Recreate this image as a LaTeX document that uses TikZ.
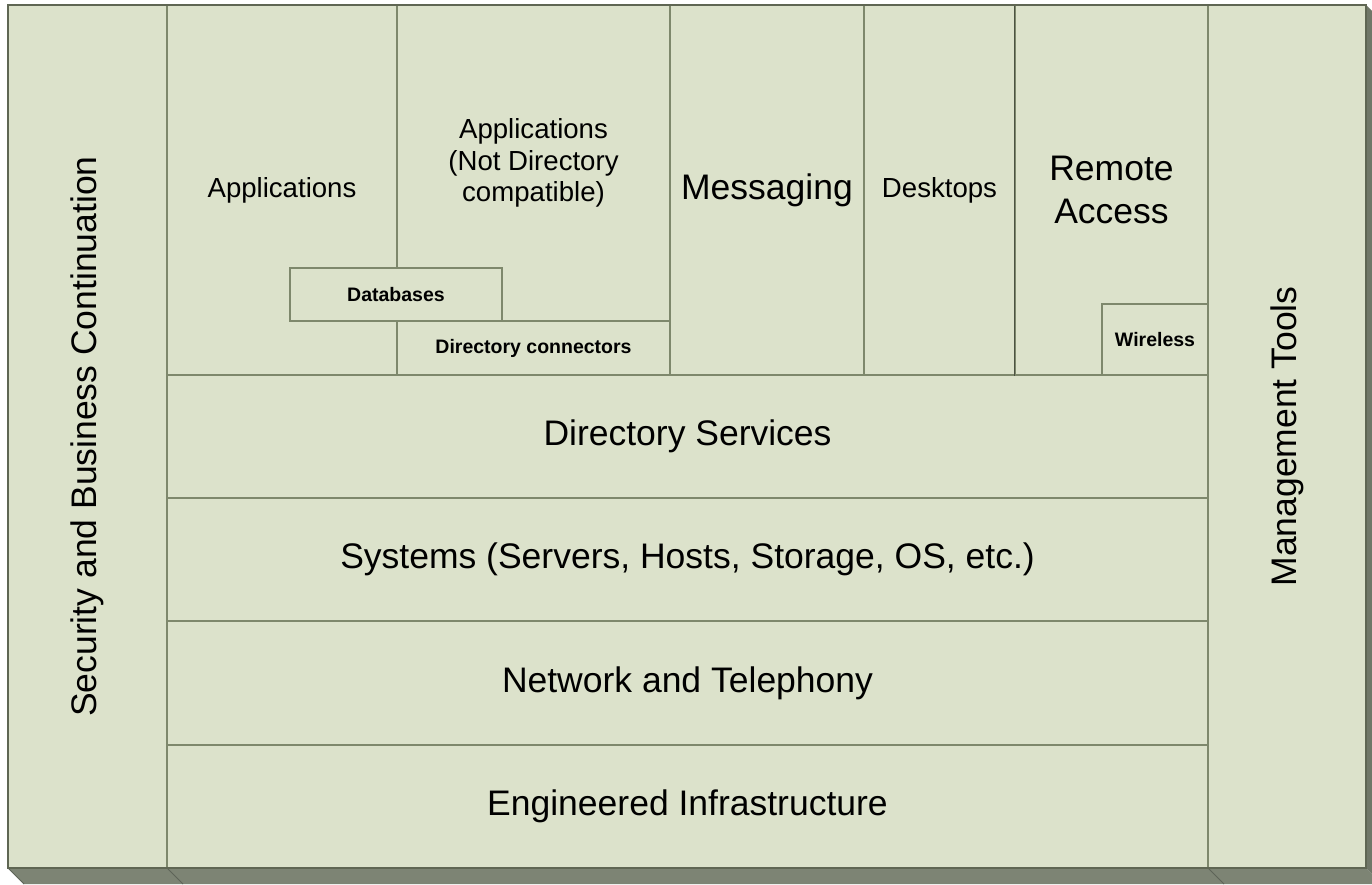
\documentclass[tikz,border=0pt]{standalone}
\usepackage{fontspec}
\setmainfont{Liberation Sans}
\definecolor{boxfill}{HTML}{DCE2CB}
\definecolor{linec}{HTML}{7E886C}
\definecolor{outerc}{HTML}{5F6653}
\definecolor{shadowc}{HTML}{7D8474}
\definecolor{shadowl}{HTML}{5E6458}
\tikzset{
  cell/.style={draw=linec, line width=1.4pt, fill=boxfill, inner sep=0pt, align=center, text=black},
  big/.style={font=\fontsize{35.5}{43}\selectfont},
  mid/.style={font=\fontsize{27.6}{31.5}\selectfont},
  small/.style={font=\fontsize{19.5}{22}\selectfont\bfseries},
}
\begin{document}
\begin{tikzpicture}[x=1pt,y=-1pt]
\useasboundingbox (0,0) rectangle (1372,884);
\clip (0,0) rectangle (1372,884);
\coordinate (tl) at (8,5);
\coordinate (br) at (1366,868);
% 3D extrusion
\fill[shadowc] (8,868) -- (1366,868) -- (1382,884) -- (24,884) -- cycle;
\fill[shadowc!90!black] (1366,5) -- (1382,21) -- (1382,884) -- (1366,868) -- cycle;
\draw[shadowl, line width=1pt] (167,868) -- (183,884) (1208,868) -- (1224,884) (8,868) -- (24,884);
% side columns
\node[cell, big, rotate=90, minimum width=863, minimum height=159] (sec) at (87.5,436.5) {Security and Business Continuation};
\node[cell, big, rotate=90, minimum width=863, minimum height=158] (mgmt) at (1287,436.5) {Management Tools};
% rows
\node[cell, big, minimum width=1041, minimum height=123] (dirsvc) at (687.5,436.5) {Directory Services};
\node[cell, big, minimum width=1041, minimum height=123] (sys) at (687.5,559.5) {Systems (Servers, Hosts, Storage, OS, etc.)};
\node[cell, big, minimum width=1041, minimum height=124] (net) at (687.5,683) {Network and Telephony};
\node[cell, big, minimum width=1041, minimum height=123] (eng) at (687.5,806.5) {Engineered Infrastructure};
% top columns
\node[cell, mid, minimum width=230, minimum height=370] (apps) at (282,190) {Applications};
\node[cell, mid, minimum width=273, minimum height=316] (appsnd) at (533.5,163) {Applications\\(Not Directory\\compatible)};
\node[cell, small, minimum width=273, minimum height=54] (dirconn) at (533.5,348) {Directory connectors};
\node[cell, small, minimum width=212, minimum height=53] (db) at (396,294.5) {Databases};
\node[cell, big, minimum width=194, minimum height=370] (msg) at (767,190) {Messaging};
\node[cell, mid, minimum width=151, minimum height=370] (desk) at (939.5,190) {Desktops};
\node[cell, big, minimum width=193, minimum height=370] (remote) at (1111.5,190) {Remote\\Access};
\node[cell, small, minimum width=106, minimum height=71] (wireless) at (1155,339.5) {Wireless};
% darker divider left of Remote Access
\draw[outerc!80!black, line width=1.6pt] (remote.north west) -- (remote.south west);
% outer border
\draw[outerc, line width=2pt] (tl) rectangle (br);
\end{tikzpicture}
\end{document}
